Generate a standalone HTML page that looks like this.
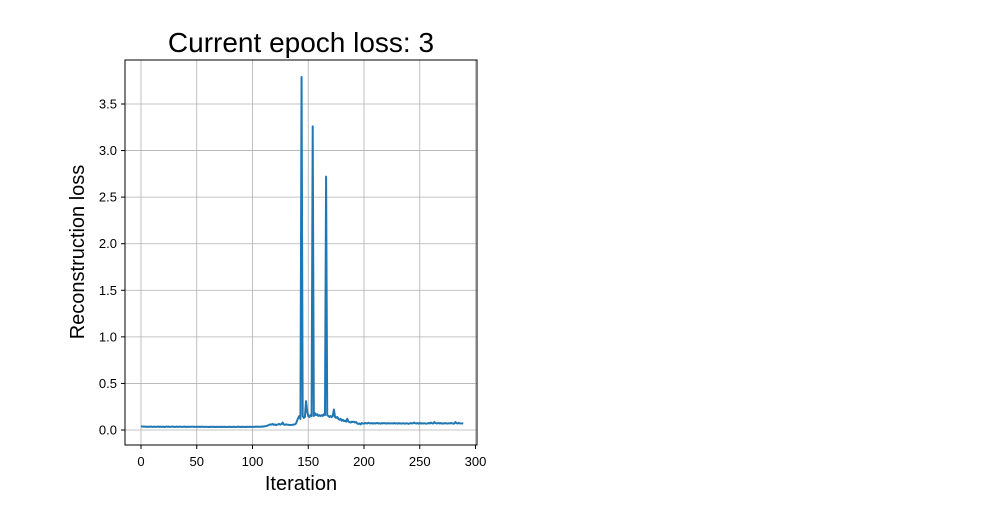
<!DOCTYPE html>
<html><head><meta charset="utf-8"><style>
body{margin:0;background:#fff;width:1000px;height:500px;overflow:hidden}
svg text{font-family:"Liberation Sans","DejaVu Sans",sans-serif}
</style></head><body>
<svg id="chart" width="1000" height="500" xmlns="http://www.w3.org/2000/svg">
<text x="301" y="52" font-size="28" text-anchor="middle">Current epoch loss: 3</text>
<g id="grid"></g>
<polyline id="line" fill="none" stroke="#1f77b4" stroke-width="2" stroke-linejoin="round"/>
<rect x="125" y="60" width="352" height="385" fill="none" stroke="#000" stroke-width="1"/>
<g id="ticks"></g>
<text x="301" y="490" font-size="20" text-anchor="middle">Iteration</text>
<text transform="translate(84,252) rotate(-90)" font-size="20" text-anchor="middle">Reconstruction loss</text>
</svg>
<script>
const xTicks=[0,50,100,150,200,250,300];
const yTicks=[0.0,0.5,1.0,1.5,2.0,2.5,3.0,3.5];
const lossValues=[
0.04,0.038,0.036,0.037,0.035,0.036,0.034,0.036,0.035,0.037,0.033,0.035,0.036,0.034,0.035,0.037,0.033,0.036,0.034,0.035,
0.036,0.032,0.035,0.037,0.034,0.036,0.033,0.035,0.038,0.034,0.035,0.033,0.036,0.034,0.035,0.037,0.034,0.033,0.035,0.036,
0.034,0.035,0.033,0.036,0.034,0.035,0.037,0.034,0.035,0.033,0.034,0.036,0.033,0.035,0.034,0.036,0.033,0.034,0.035,0.033,
0.034,0.032,0.035,0.033,0.034,0.036,0.032,0.034,0.035,0.033,0.034,0.032,0.035,0.034,0.033,0.035,0.032,0.034,0.033,0.035,
0.034,0.032,0.033,0.035,0.034,0.032,0.034,0.036,0.033,0.034,0.032,0.035,0.033,0.034,0.032,0.035,0.034,0.033,0.035,0.034,
0.033,0.035,0.034,0.036,0.035,
0.036,0.034,0.035,0.037,0.036,0.038,0.04,0.042,0.045,0.05,0.055,0.06,0.058,0.065,0.055,0.06,0.052,0.058,0.06,0.065,
0.058,0.062,0.08,0.06,0.055,0.06,0.058,0.056,0.055,0.054,0.055,0.056,0.058,0.06,0.07,0.1,0.13,0.15,0.12,3.79,
0.15,0.13,0.14,0.31,0.2,0.15,0.14,0.16,0.15,3.26,0.15,0.18,0.16,0.17,0.15,0.16,0.15,0.16,0.15,0.17,
0.16,2.72,0.16,0.15,0.14,0.15,0.14,0.15,0.22,0.14,0.13,0.14,0.12,0.11,0.12,0.1,0.11,0.095,0.1,0.09,
0.12,0.09,0.085,0.08,0.09,0.085,0.09,0.08,0.085,0.07,0.065,0.07,0.06,0.075,0.07,0.068,0.075,0.072,0.07,0.078,
0.072,0.07,0.075,0.068,0.074,0.07,0.072,0.076,0.07,0.073,0.068,0.074,0.071,0.075,0.07,0.072,0.069,0.074,0.071,0.07,
0.073,0.069,0.075,0.07,0.072,0.068,0.074,0.07,0.071,0.069,0.073,0.07,0.068,0.072,0.07,0.066,0.071,0.075,0.07,0.072,
0.08,0.072,0.07,0.074,0.068,0.076,0.07,0.072,0.069,0.073,0.07,0.068,0.071,0.075,0.07,0.08,0.072,0.069,0.085,0.074,
0.07,0.072,0.076,0.07,0.075,0.068,0.072,0.07,0.074,0.071,0.069,0.073,0.07,0.075,0.072,0.068,0.07,0.085,0.073,0.07,
0.076,0.071,0.069,0.072,0.07];
const X=v=>141+v*(475.5-141)/300;
const Y=v=>430-v*(430-104)/3.5;
const ns="http://www.w3.org/2000/svg";
const grid=document.getElementById('grid'),ticks=document.getElementById('ticks');
function mk(tag,attrs,parent){const e=document.createElementNS(ns,tag);for(const k in attrs)e.setAttribute(k,attrs[k]);parent.appendChild(e);return e;}
xTicks.forEach(t=>{
 const x=X(t);
 const g=mk('line',{x1:x,x2:x,y1:60,y2:445,stroke:'#b0b0b0','stroke-width':0.8},grid);
 
 
 const tk=mk('line',{x1:x,x2:x,y1:445,y2:449,stroke:'#000'},ticks);
 
 
 const l=mk('text',{x:x,y:466,'font-size':13,'text-anchor':'middle'},ticks);
 l.textContent=t;
 
 
});
yTicks.forEach(t=>{
 const y=Y(t);
 const g=mk('line',{x1:125,x2:477,y1:y,y2:y,stroke:'#b0b0b0','stroke-width':0.8},grid);
 
 
 const tk=mk('line',{x1:121,x2:125,y1:y,y2:y,stroke:'#000'},ticks);
 
 
 const l=mk('text',{x:117,y:y+4.5,'font-size':13,'text-anchor':'end'},ticks);
 l.textContent=t.toFixed(1);
 
 
});
document.getElementById('line').setAttribute('points',lossValues.map((v,i)=>X(i).toFixed(2)+','+Y(v).toFixed(2)).join(' '));
</script>
</body></html>
